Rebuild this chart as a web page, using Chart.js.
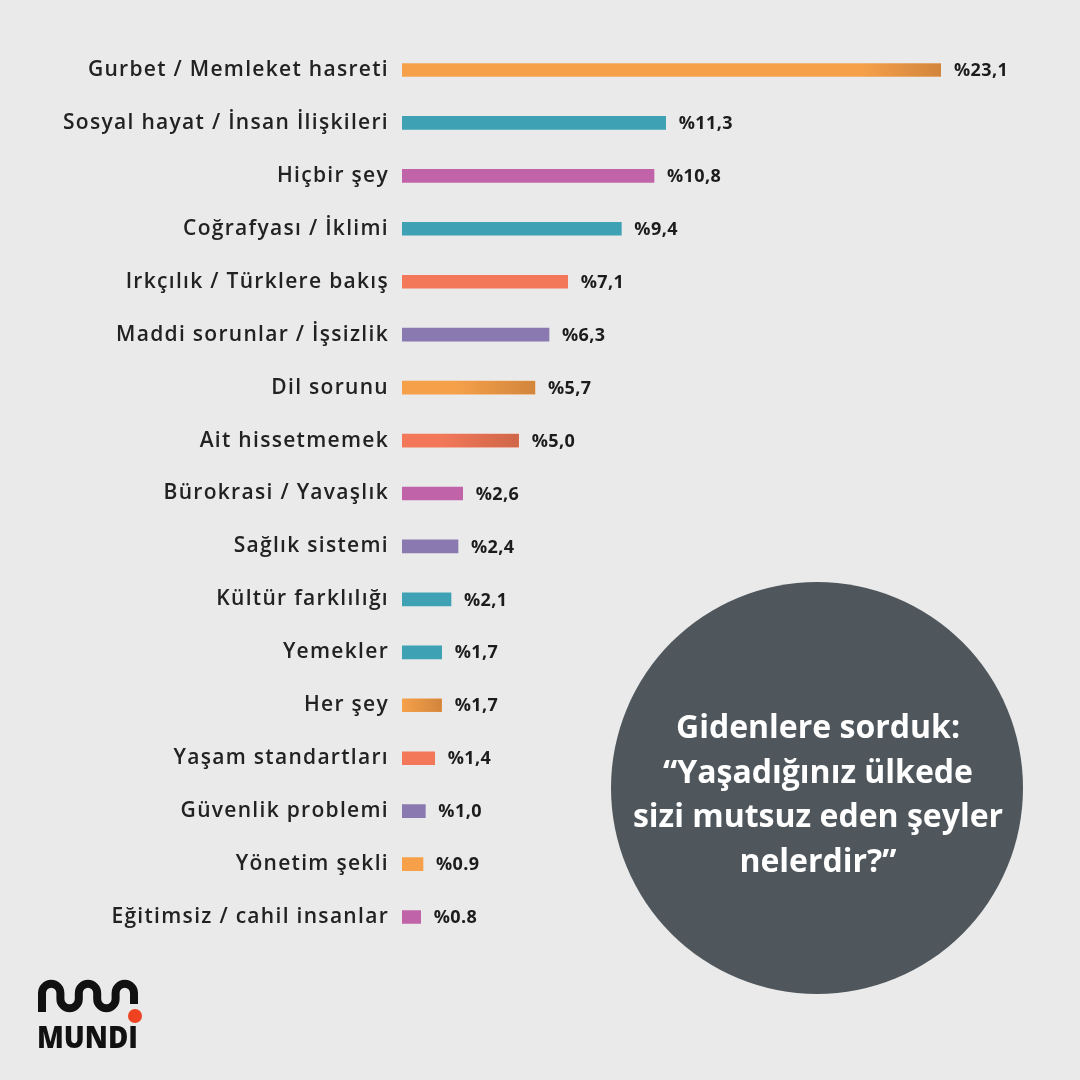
<!DOCTYPE html>
<html>
<head>
<meta charset="utf-8">
<script src="https://cdn.jsdelivr.net/npm/chart.js@4"></script>
<style>
  html, body { margin: 0; padding: 0; background: #eaeaea; }
  #wrap { width: 1080px; height: 1080px; position: relative; }
</style>
</head>
<body>
<div id="wrap"><canvas id="myChart" width="1080" height="1080"></canvas></div>
<script>
const categories = [
    "Gurbet / Memleket hasreti",
    "Sosyal hayat / İnsan İlişkileri",
    "Hiçbir şey",
    "Coğrafyası / İklimi",
    "Irkçılık / Türklere bakış",
    "Maddi sorunlar / İşsizlik",
    "Dil sorunu",
    "Ait hissetmemek",
    "Bürokrasi / Yavaşlık",
    "Sağlık sistemi",
    "Kültür farklılığı",
    "Yemekler",
    "Her şey",
    "Yaşam standartları",
    "Güvenlik problemi",
    "Yönetim şekli",
    "Eğitimsiz / cahil insanlar"
];
const values = [23.1, 11.3, 10.8, 9.4, 7.1, 6.3, 5.7, 5.0, 2.6, 2.4, 2.1, 1.7, 1.7, 1.4, 1.0, 0.9, 0.8];
const valueLabels = ["%23,1", "%11,3", "%10,8", "%9,4", "%7,1", "%6,3", "%5,7", "%5,0", "%2,6", "%2,4", "%2,1", "%1,7", "%1,7", "%1,4", "%1,0", "%0.9", "%0.8"];

const orange = '#f6a04a', teal = '#3ea2b4', pink = '#c063a8', coral = '#f3785a', purple = '#8a78b0';
const barColors = [orange, teal, pink, teal, coral, purple, orange, coral, pink, purple, teal, teal, orange, coral, purple, orange, pink];
const shadedEnds = [0, 6, 7, 12];

const FONT = "'Open Sans', 'Noto Sans', sans-serif";

const extras = {
    id: 'extras',
    beforeDraw(chart) {
        const ctx = chart.ctx;
        ctx.save();
        ctx.fillStyle = '#eaeaea';
        ctx.fillRect(0, 0, chart.width, chart.height);
        ctx.restore();
        // wider tracking for the category labels (drawn with the axis)
        ctx.letterSpacing = '1.3px';
    },
    beforeDatasetsDraw(chart) {
        chart.ctx.letterSpacing = '0px';
    },
    afterDatasetsDraw(chart) {
        const ctx = chart.ctx;
        const meta = chart.getDatasetMeta(0);
        ctx.save();
        meta.data.forEach((bar, i) => {
            if (shadedEnds.includes(i)) {
                const start = Math.max(bar.base, bar.x - 80);
                const g = ctx.createLinearGradient(start, 0, bar.x, 0);
                g.addColorStop(0, 'rgba(80,40,10,0)');
                g.addColorStop(1, 'rgba(80,40,10,0.22)');
                ctx.fillStyle = g;
                ctx.fillRect(start, bar.y - bar.height / 2, bar.x - start, bar.height);
            }
            ctx.fillStyle = '#1c1c1c';
            ctx.font = "bold 18px " + FONT;
            ctx.letterSpacing = '0.4px';
            ctx.textBaseline = 'middle';
            ctx.textAlign = 'left';
            ctx.fillText(valueLabels[i], bar.x + 13, bar.y + 1);
        });
        ctx.restore();
    },
    afterDraw(chart) {
        const ctx = chart.ctx;
        ctx.save();
        ctx.letterSpacing = '0px';
        // question circle
        ctx.fillStyle = '#4f575c';
        ctx.beginPath();
        ctx.arc(817, 788, 206, 0, Math.PI * 2);
        ctx.fill();
        ctx.fillStyle = '#ffffff';
        ctx.font = "bold 32px " + FONT;
        ctx.textAlign = 'center';
        ctx.textBaseline = 'middle';
        const lines = ["Gidenlere sorduk:", "“Yaşadığınız ülkede", "sizi mutsuz eden şeyler", "nelerdir?”"];
        lines.forEach((t, k) => ctx.fillText(t, 818, 729 + k * 44.5));

        // logo
        ctx.strokeStyle = '#111';
        ctx.lineWidth = 8;
        ctx.lineCap = 'butt';
        const r = 9.2, x0 = 42, yTop = 993, yBot = 999;
        ctx.beginPath();
        ctx.moveTo(x0, 1012);
        let x = x0;
        for (let k = 0; k < 5; k++) {
            const cx = x + r;
            if (k % 2 === 0) {
                ctx.lineTo(x, yTop);
                ctx.arc(cx, yTop, r, Math.PI, 0, false);
            } else {
                ctx.lineTo(x, yBot);
                ctx.arc(cx, yBot, r, Math.PI, 0, true);
            }
            x += 2 * r;
        }
        ctx.lineTo(x, 1004);
        ctx.stroke();
        ctx.fillStyle = '#ef4220';
        ctx.beginPath();
        ctx.arc(x + 1, 1016, 7, 0, Math.PI * 2);
        ctx.fill();
        ctx.fillStyle = '#111';
        ctx.font = "800 30px " + FONT;
        ctx.textAlign = 'left';
        ctx.textBaseline = 'alphabetic';
        ctx.fillText("MUNDI", 37, 1048, 101);
        ctx.restore();
    }
};

const ctx = document.getElementById('myChart');
const myChart = new Chart(ctx, {
    type: 'bar',
    data: {
        labels: categories,
        datasets: [{
            data: values,
            backgroundColor: barColors,
            borderWidth: 0,
            barThickness: 13
        }]
    },
    options: {
        indexAxis: 'y',
        responsive: false,
        animation: false,
        layout: {
            padding: { left: 0, right: 139, top: 43.5, bottom: 136.5 }
        },
        plugins: {
            legend: { display: false },
            tooltip: { enabled: false }
        },
        scales: {
            x: {
                display: false,
                min: 0,
                max: Math.max(...values)
            },
            y: {
                grid: { display: false },
                border: { display: false },
                ticks: {
                    color: '#222',
                    padding: 5,
                    font: { family: FONT, size: 21, weight: '600' }
                },
                afterFit(scale) { scale.width = 402; }
            }
        }
    },
    plugins: [extras]
});
</script>
</body>
</html>
